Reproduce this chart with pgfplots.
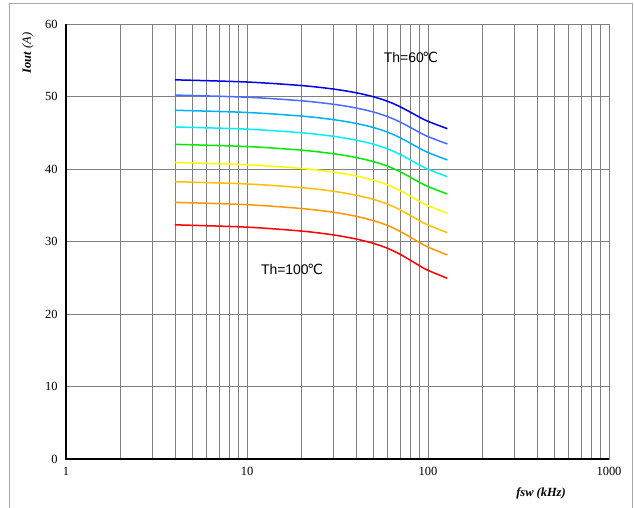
\documentclass[border=0pt]{standalone}
\usepackage{pgfplots}
\pgfplotsset{compat=1.18}
\usepackage{fontspec}
\setmainfont{Liberation Serif}
\newfontfamily\arial{Liberation Sans}
\newfontfamily\dv{DejaVu Sans}
\definecolor{c1}{RGB}{0,0,235}
\definecolor{c2}{RGB}{70,110,255}
\definecolor{c3}{RGB}{0,176,255}
\definecolor{c4}{RGB}{0,240,255}
\definecolor{c5}{RGB}{0,235,0}
\definecolor{c6}{RGB}{255,250,0}
\definecolor{c7}{RGB}{255,192,0}
\definecolor{c8}{RGB}{255,150,0}
\definecolor{c9}{RGB}{255,0,0}
\definecolor{gridc}{RGB}{128,128,128}
\begin{document}
\begin{tikzpicture}
\useasboundingbox (0bp,0bp) rectangle (634bp,-508bp);
\draw[color=black!35, line width=0.8bp] (9bp,-3bp) rectangle (632bp,-530bp);
\begin{axis}[
  at={(66bp,-459bp)}, anchor=south west,
  scale only axis, width=543bp, height=435bp,
  xmode=log, xmin=1, xmax=1000, ymin=0, ymax=60,
  xtick={1,10,100,1000}, xticklabels={1,10,100,1000},
  ytick={0,10,...,60},
  minor xtick={2,3,4,5,6,7,8,9,20,30,40,50,60,70,80,90,200,300,400,500,600,700,800,900},
  grid=both,
  major grid style={gridc, line width=0.7bp},
  minor grid style={gridc, line width=0.7bp},
  axis line style={gridc, line width=0.8bp},
  major tick length=0pt, minor tick length=0pt,
  tick label style={font=\fontsize{12.5}{14}\selectfont},
  /pgf/number format/assume math mode=true,
  xticklabel style={yshift=-5bp},
  yticklabel style={xshift=-5bp},
  clip=false,
  every axis plot/.append style={line width=1.5bp, smooth, no markers},
]
\draw[black, line width=1.2bp] (rel axis cs:0,1) -- (rel axis cs:0,0) -- (rel axis cs:1,0);
\addplot[c1] coordinates {(4,52.3) (10,52.00) (20,51.51) (30,51.03) (40,50.52) (50,49.96) (60,49.33) (70,48.60) (80,47.83) (90,47.14) (100,46.58) (128,45.56)};
\addplot[c2] coordinates {(4,50.2) (10,49.90) (20,49.41) (30,48.93) (40,48.42) (50,47.86) (60,47.22) (70,46.49) (80,45.73) (90,45.03) (100,44.47) (128,43.45)};
\addplot[c3] coordinates {(4,48.1) (10,47.80) (20,47.30) (30,46.81) (40,46.29) (50,45.72) (60,45.07) (70,44.33) (80,43.55) (90,42.85) (100,42.28) (128,41.24)};
\addplot[c4] coordinates {(4,45.8) (10,45.50) (20,45.00) (30,44.51) (40,43.99) (50,43.42) (60,42.77) (70,42.03) (80,41.25) (90,40.55) (100,39.98) (128,38.94)};
\addplot[c5] coordinates {(4,43.4) (10,43.10) (20,42.60) (30,42.11) (40,41.59) (50,41.02) (60,40.38) (70,39.64) (80,38.86) (90,38.15) (100,37.58) (128,36.55)};
\addplot[c6] coordinates {(4,40.9) (10,40.59) (20,40.08) (30,39.58) (40,39.05) (50,38.47) (60,37.81) (70,37.05) (80,36.25) (90,35.53) (100,34.95) (128,33.89)};
\addplot[c7] coordinates {(4,38.25) (10,37.94) (20,37.43) (30,36.93) (40,36.39) (50,35.81) (60,35.15) (70,34.39) (80,33.59) (90,32.87) (100,32.28) (128,31.22)};
\addplot[c8] coordinates {(4,35.4) (10,35.08) (20,34.55) (30,34.04) (40,33.48) (50,32.88) (60,32.20) (70,31.41) (80,30.59) (90,29.84) (100,29.24) (128,28.14)};
\addplot[c9] coordinates {(4,32.3) (10,31.98) (20,31.44) (30,30.91) (40,30.35) (50,29.74) (60,29.05) (70,28.25) (80,27.41) (90,26.65) (100,26.03) (128,24.92)};
\end{axis}
\node[rotate=90, font=\fontsize{12.5}{14}\selectfont] at (28bp,-53bp) {\textbf{\textit{Iout}} \textit{(A)}};
\node[font=\fontsize{12.5}{14}\selectfont] at (541bp,-493bp) {\textbf{\textit{fsw (kHz)}}};
\node[font=\arial\fontsize{14}{16}\selectfont] at (411bp,-57bp) {Th=60{\dv\kern-0.1em ℃}};
\node[font=\arial\fontsize{14}{16}\selectfont] at (292bp,-269bp) {Th=100{\dv\kern-0.1em ℃}};
\end{tikzpicture}
\end{document}
